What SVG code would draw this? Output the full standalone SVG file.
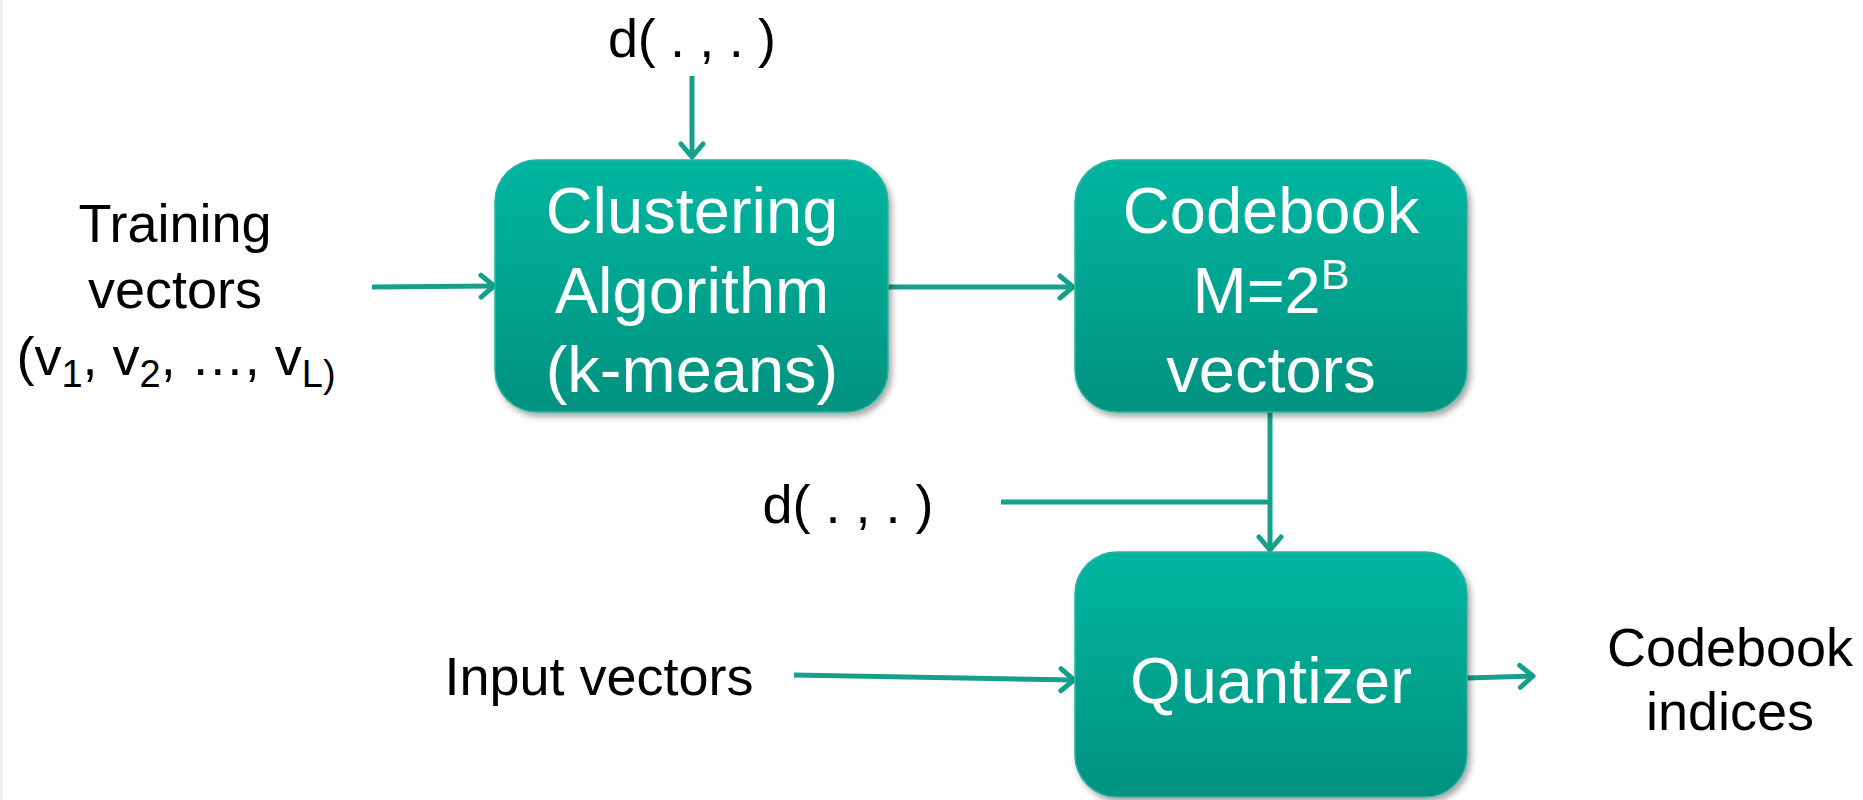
<svg xmlns="http://www.w3.org/2000/svg" width="1863" height="800" viewBox="0 0 1863 800">
<defs>
<linearGradient id="boxGrad" x1="0" y1="0" x2="0" y2="1">
<stop offset="0" stop-color="#00B6A0"/>
<stop offset="1" stop-color="#00927F"/>
</linearGradient>
<filter id="shadow" x="-10%" y="-10%" width="125%" height="130%">
<feGaussianBlur in="SourceAlpha" stdDeviation="3"/>
<feOffset dx="3" dy="4" result="b"/>
<feComponentTransfer><feFuncA type="linear" slope="0.35"/></feComponentTransfer>
<feMerge><feMergeNode/><feMergeNode in="SourceGraphic"/></feMerge>
</filter>
<marker id="arr" viewBox="0 0 28 28" refX="23" refY="14" markerWidth="28" markerHeight="28" markerUnits="userSpaceOnUse" orient="auto">
<path d="M10,3 L23,14 L10,25" fill="none" stroke="#16A08C" stroke-width="5" stroke-linecap="round" stroke-linejoin="round"/>
</marker>
</defs>
<style>
.box{fill:url(#boxGrad);stroke:#2BB3A2;stroke-width:1.5;filter:url(#shadow)}
.wt{font-family:"Liberation Sans",Arial,sans-serif;font-size:65px;fill:#ffffff;text-anchor:middle}
.bt{font-family:"Liberation Sans",Arial,sans-serif;font-size:54px;fill:#000000;text-anchor:middle}
.ln{fill:none;stroke:#16A08C;stroke-width:5}
.sub{font-size:38px}
</style>
<rect x="0" y="0" width="1863" height="800" fill="#ffffff"/>
<line x1="1.5" y1="0" x2="1.5" y2="800" stroke="#e6e6e6" stroke-width="2"/>

<g id="connectors">
<line class="ln" x1="692" y1="76" x2="692" y2="157" marker-end="url(#arr)"/>
<line class="ln" x1="372" y1="287" x2="494" y2="286" marker-end="url(#arr)"/>
<line class="ln" x1="888" y1="287" x2="1073" y2="287" marker-end="url(#arr)"/>
<line class="ln" x1="1270" y1="412" x2="1270" y2="550" marker-end="url(#arr)"/>
<line class="ln" x1="1001" y1="502" x2="1272" y2="502"/>
<line class="ln" x1="794" y1="675" x2="1074" y2="680" marker-end="url(#arr)"/>
<line class="ln" x1="1467" y1="678" x2="1533" y2="676" marker-end="url(#arr)"/>
</g>

<g id="d-top"><text class="bt" x="692" y="57" textLength="168" lengthAdjust="spacing">d( . , . )</text></g>
<g id="training"><text class="bt" x="175" y="242">Training</text>
<text class="bt" x="175" y="308">vectors</text>
<text class="bt" x="176" y="375">(v<tspan class="sub" dy="12">1</tspan><tspan dy="-12">, v</tspan><tspan class="sub" dy="12">2</tspan><tspan dy="-12">, …, v</tspan><tspan class="sub" dy="12">L)</tspan></text></g>

<g id="clustering">
<rect class="box" x="495" y="160" width="393" height="252" rx="42"/>
<text class="wt" x="692" y="233">Clustering</text>
<text class="wt" x="692" y="313">Algorithm</text>
<text class="wt" x="692" y="392">(k-means)</text>
</g>

<g id="codebook">
<rect class="box" x="1075" y="160" width="392" height="252" rx="42"/>
<text class="wt" x="1271" y="233">Codebook</text>
<text class="wt" x="1271" y="313">M=2<tspan font-size="43" dy="-24">B</tspan></text>
<text class="wt" x="1271" y="392">vectors</text>
</g>

<g id="d-mid"><text class="bt" x="848" y="523" textLength="171" lengthAdjust="spacing">d( . , . )</text></g>

<g id="quantizer">
<rect class="box" x="1075" y="552" width="392" height="245" rx="42"/>
<text class="wt" x="1271" y="703">Quantizer</text>
</g>

<g id="input"><text class="bt" x="599" y="695">Input vectors</text></g>
<g id="indices"><text class="bt" x="1730" y="666">Codebook</text>
<text class="bt" x="1730" y="730">indices</text></g>
</svg>
